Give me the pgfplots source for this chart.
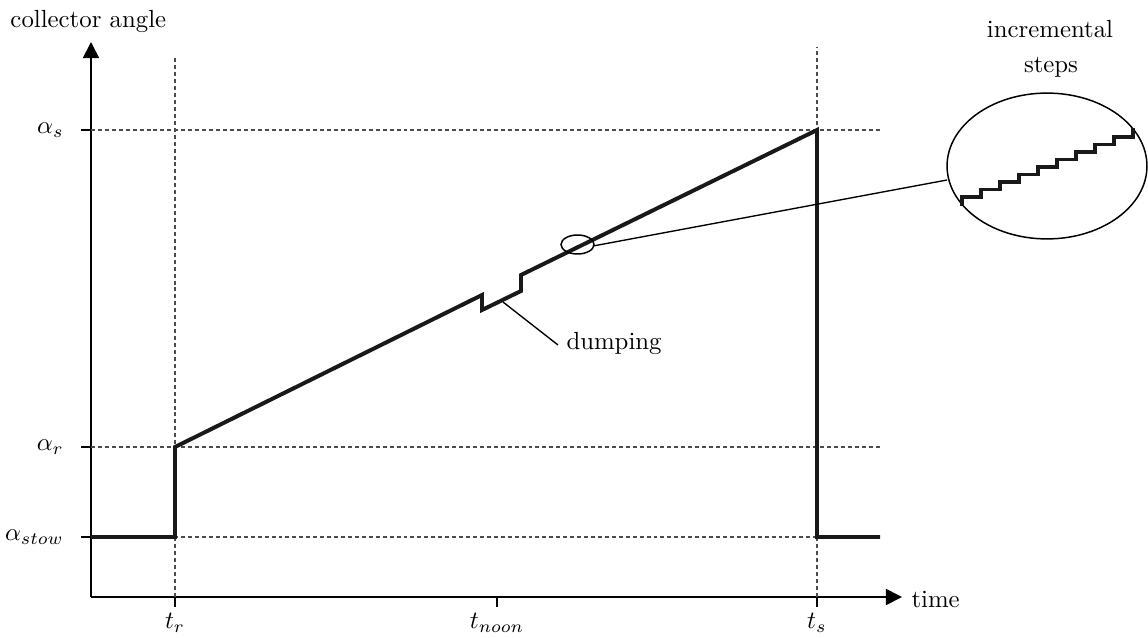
\documentclass[border=0pt]{standalone}
\usepackage{pgfplots}
\pgfplotsset{compat=1.18}
\usetikzlibrary{arrows.meta}
\begin{document}
\begin{tikzpicture}
\begin{axis}[
 x=0.4032pt, y=0.4032pt,
 xmin=91, xmax=902, ymin=40, ymax=595,
 axis lines=left,
 axis line style={line width=0.7pt, -{Triangle[length=6.5pt,width=6.5pt]}},
 clip=false,
 xtick={175,497,817}, xticklabels={$t_r$,$t_{noon}$,$t_s$},
 ytick={100,190,507}, yticklabels={$\alpha_{stow}$,$\alpha_r$,$\alpha_s$},
 yticklabel style={xshift=-3.5pt},
 xticklabel style={yshift=1pt},
 tick align=outside, major tick length=4pt,
 tick style={black, line width=0.6pt},
 grid dash/.style={black!70, line width=0.45pt, dash pattern=on 1.6pt off 1.2pt},
 thickline/.style={black!90, line width=1.6pt, line join=miter},
]
% dashed guide lines
\addplot[grid dash] coordinates {(175,40) (175,580)};
\addplot[grid dash] coordinates {(817,40) (817,590)};
\addplot[grid dash] coordinates {(91,507) (880,507)};
\addplot[grid dash] coordinates {(91,190) (880,190)};
\addplot[grid dash] coordinates {(91,100) (817,100)};
% collector angle
\addplot[thickline] coordinates {
 (91,100) (175,100) (175,190) (482,342) (482,327) (521,346) (521,362) (817,507) (817,100) (880,100)};
% dumping leader
\addplot[black, line width=0.55pt] coordinates {(503,335) (558,292)};
\node[anchor=base west, inner sep=0pt] at (axis cs:566,288) {dumping};
% zoom ellipse and connector
\draw[black, line width=0.6pt] (axis cs:577.5,392.5) ellipse [x radius=6.65pt, y radius=3.83pt];
\addplot[black, line width=0.55pt] coordinates {(593,391) (947,457)};
\draw[black, line width=0.6pt] (axis cs:1047,471) ellipse [x radius=40.3pt, y radius=29.4pt];
\addplot[thickline] coordinates {
 (962,431) (962,440) (981,440) (981,447.5) (1000,447.5) (1000,455) (1019,455) (1019,462.5)
 (1038,462.5) (1038,470) (1057,470) (1057,477.5) (1076,477.5) (1076,485) (1095,485) (1095,492.5)
 (1114,492.5) (1114,500) (1133,500) (1133,509)};
\node[anchor=base, inner sep=0pt] at (axis cs:1050,599) {incremental};
\node[anchor=base, inner sep=0pt] at (axis cs:1051,565) {steps};
% axis labels
\node[anchor=base west, inner sep=0pt] at (axis cs:10,610) {collector angle};
\node[anchor=base west, inner sep=0pt] at (axis cs:911,30) {time};
\coordinate (BL) at (axis cs:0,0);
\coordinate (TR) at (axis cs:1148,637);
\end{axis}
\pgfresetboundingbox
\path[use as bounding box] (BL) rectangle (TR);
\end{tikzpicture}
\end{document}
